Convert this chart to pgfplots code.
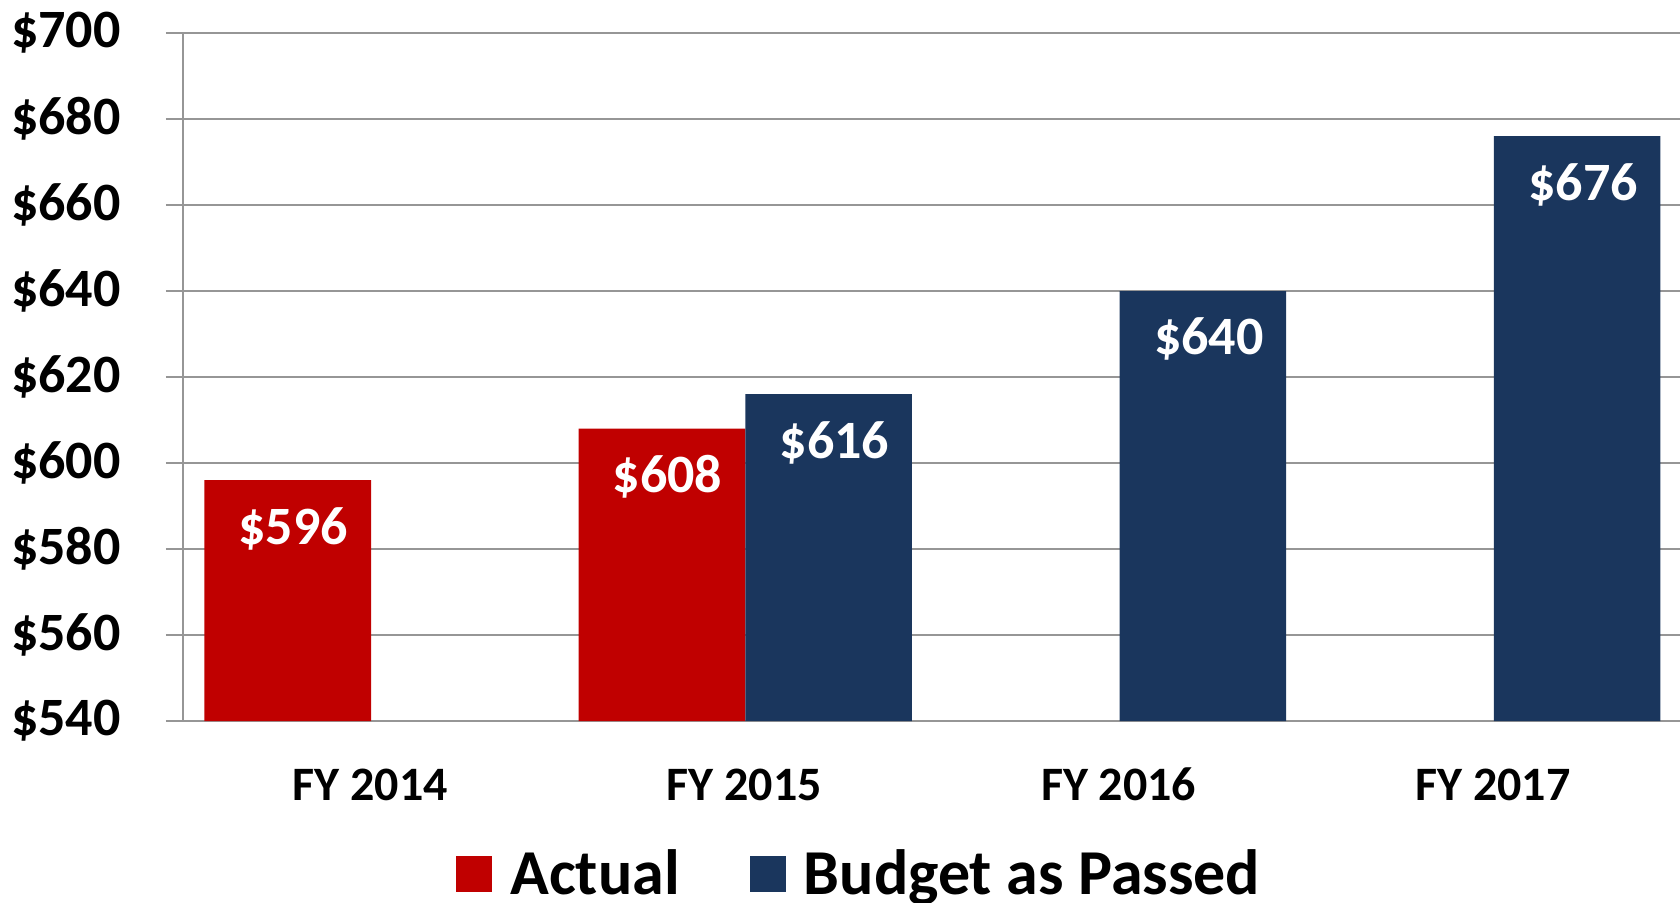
\documentclass[border=0pt]{standalone}
\usepackage{pgfplots}
\pgfplotsset{compat=1.18}
\usepackage{fontspec}
\setmainfont{Carlito}
\definecolor{barred}{HTML}{C00000}
\definecolor{barblue}{HTML}{1A365D}
\definecolor{gridgray}{RGB}{150,150,150}
\begin{document}
\begin{tikzpicture}
\begin{axis}[
  scale only axis,
  width=748.5bp, height=344bp,
  xmin=-0.5, xmax=3.5,
  ymin=540, ymax=700,
  ytick={540,560,...,700},
  xtick={0,1,2,3},
  xticklabels={FY 2014,FY 2015,FY 2016,FY 2017},
  minor xtick={-0.5,0.5,1.5,2.5,3.5},
  axis x line*=bottom, axis y line*=left,
  axis line style={-, gridgray, line width=1bp},
  ymajorgrids,
  major grid style={gridgray, line width=1bp},
  tick align=outside,
  major tick length=8.5bp,
  minor tick length=7.5bp,
  xtick style={draw=none},
  ytick style={gridgray, line width=1bp},
  minor x tick style={gridgray, line width=1bp},
  /pgf/number format/assume math mode=true,
  yticklabel={\$\pgfmathprintnumber{\tick}},
  yticklabel style={font=\fontsize{27bp}{32bp}\selectfont\bfseries, anchor=east, inner sep=0pt, xshift=-22.5bp},
  xticklabel style={font=\fontsize{24bp}{29bp}\selectfont\bfseries, anchor=base, inner sep=0pt, yshift=-31bp},
  nodes near coords={\$\pgfmathprintnumber{\pgfplotspointmeta}},
  every node near coord/.append style={font=\fontsize{27bp}{33bp}\selectfont\bfseries, text=white, anchor=center, yshift=-24.2bp},
  legend style={draw=none, fill=none, at={(axis description cs:0.1824,-0.2224)}, anchor=west,
    legend columns=2, font=\fontsize{32bp}{38bp}\selectfont\bfseries,
    /tikz/every even column/.append style={column sep=33bp},
    inner sep=0pt, row sep=0pt},
  legend cell align=left,
]
\addplot[ybar, bar width=83.3bp, bar shift=-41.2bp, fill=barred, draw=none,
  every node near coord/.append style={xshift=-38.4bp},
  legend image code/.code={\fill[barred] (0bp,-9bp) rectangle (18bp,9bp); \path (25bp,0bp);}]
  coordinates {(0,596) (1,608)};
\addlegendentry{Actual}
\addplot[ybar, bar width=83.3bp, bar shift=42.1bp, fill=barblue, draw=none,
  every node near coord/.append style={xshift=45.1bp},
  legend image code/.code={\fill[barblue] (0bp,-9bp) rectangle (18bp,9bp); \path (25bp,0bp);}]
  coordinates {(1,616) (2,640) (3,676)};
\addlegendentry{Budget as Passed}
\end{axis}
\pgfresetboundingbox
\useasboundingbox (-91.5bp,-91bp) rectangle (748.5bp,360.5bp);
\end{tikzpicture}
\end{document}
